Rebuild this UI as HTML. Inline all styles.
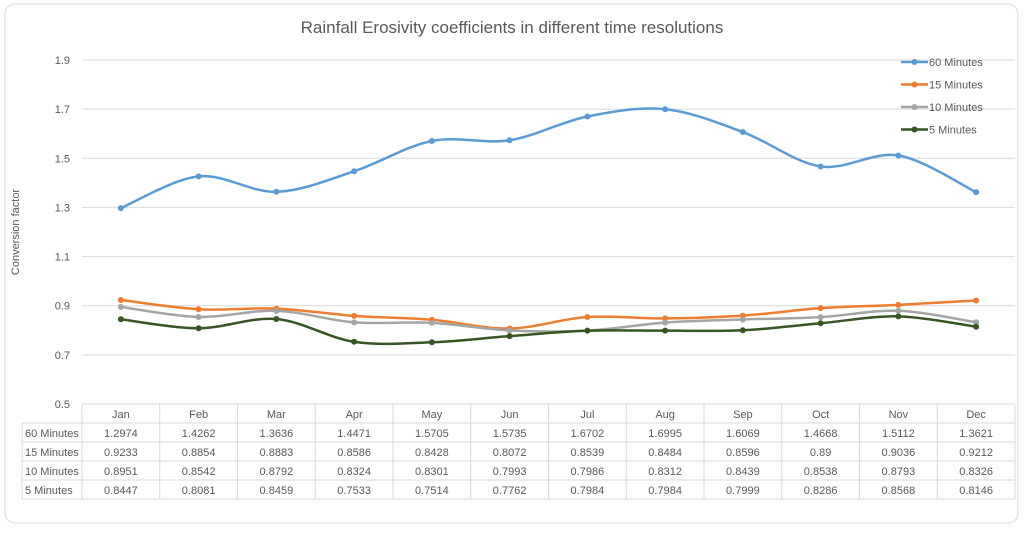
<!DOCTYPE html>
<html><head><meta charset="utf-8"><style>
body{margin:0;background:#fff;font-family:"Liberation Sans",sans-serif;}
svg text{font-family:"Liberation Sans",sans-serif;fill:#595959;}
</style></head><body>
<svg id="c" width="1024" height="529">
<rect x="5" y="4" width="1013" height="519" rx="10" fill="#fff" stroke="#d9d9d9"/>
<text x="512" y="33" text-anchor="middle" font-size="17">Rainfall Erosivity coefficients in different time resolutions</text>
<text transform="translate(19,232) rotate(-90)" text-anchor="middle" font-size="11">Conversion factor</text>
<g id="grid"></g><g id="series"></g><g id="table"></g><g id="legend"></g>
</svg>
<script>
const categories=["Jan","Feb","Mar","Apr","May","Jun","Jul","Aug","Sep","Oct","Nov","Dec"];
const seriesNames=["60 Minutes","15 Minutes","10 Minutes","5 Minutes"];
const s60=[1.2974,1.4262,1.3636,1.4471,1.5705,1.5735,1.6702,1.6995,1.6069,1.4668,1.5112,1.3621];
const s15=[0.9233,0.8854,0.8883,0.8586,0.8428,0.8072,0.8539,0.8484,0.8596,0.89,0.9036,0.9212];
const s10=[0.8951,0.8542,0.8792,0.8324,0.8301,0.7993,0.7986,0.8312,0.8439,0.8538,0.8793,0.8326];
const s5=[0.8447,0.8081,0.8459,0.7533,0.7514,0.7762,0.7984,0.7984,0.7999,0.8286,0.8568,0.8146];
const yTicks=[0.5,0.7,0.9,1.1,1.3,1.5,1.7,1.9];
const colors=["#5b9bd5","#ed7d31","#a5a5a5","#375623"];
const all=[s60,s15,s10,s5];
const NS="http://www.w3.org/2000/svg";
const X0=82,X1=1015,Y0=404,Y1=60,VMIN=0.5,VMAX=1.9;
const cw=(X1-X0)/categories.length;
const xs=i=>X0+cw*(i+0.5);
const ys=v=>Y0-(v-VMIN)/(VMAX-VMIN)*(Y0-Y1);
function mk(t,a,p){const e=document.createElementNS(NS,t);for(const k in a)e.setAttribute(k,a[k]);p.appendChild(e);return e;}
const g=document.getElementById('grid');
yTicks.forEach(t=>{
 const l=mk('line',{x1:X0,x2:X1,y1:ys(t),y2:ys(t),stroke:'#d9d9d9'},g);
 
 
 const tx=mk('text',{x:70,y:ys(t)+4,'text-anchor':'end','font-size':11},g);tx.textContent=t.toFixed(1);
 
 
});
const sg=document.getElementById('series');
all.forEach((arr,si)=>{
 const pts=arr.map((v,i)=>[xs(i),ys(v)]);
 let d=`M${pts[0][0]},${pts[0][1]}`;
 for(let i=0;i<pts.length-1;i++){
  const p0=pts[Math.max(0,i-1)],p1=pts[i],p2=pts[i+1],p3=pts[Math.min(pts.length-1,i+2)];
  const c1=[p1[0]+(p2[0]-p0[0])/6,p1[1]+(p2[1]-p0[1])/6],c2=[p2[0]-(p3[0]-p1[0])/6,p2[1]-(p3[1]-p1[1])/6];
  d+=` C${c1[0]},${c1[1]} ${c2[0]},${c2[1]} ${p2[0]},${p2[1]}`;
 }
 const p=mk('path',{d:d,fill:'none',stroke:colors[si],'stroke-width':2.5},sg);
 
 
 pts.forEach(q=>{const c=mk('circle',{cx:q[0],cy:q[1],r:3,fill:colors[si]},sg);
  
  });
});
const tg=document.getElementById('table');
const rows=[404,423,442,461,480,499];
const st='#d9d9d9';
mk('line',{x1:X0,x2:X1,y1:404,y2:404,stroke:st},tg);
for(let r=1;r<rows.length;r++)mk('line',{x1:22,x2:X1,y1:rows[r],y2:rows[r],stroke:st},tg);
mk('line',{x1:22,x2:22,y1:423,y2:499,stroke:st},tg);
for(let i=0;i<=categories.length;i++)mk('line',{x1:X0+cw*i,x2:X0+cw*i,y1:404,y2:499,stroke:st},tg);
categories.forEach((c,i)=>{const t=mk('text',{x:xs(i),y:418,'text-anchor':'middle','font-size':11},tg);t.textContent=c;
 
 });
all.forEach((arr,si)=>{
 const y=rows[si+1]+14;
 const l=mk('text',{x:25,y:y,'font-size':11},tg);l.textContent=seriesNames[si];
 
 
 arr.forEach((v,i)=>{const t=mk('text',{x:xs(i),y:y,'text-anchor':'middle','font-size':11},tg);t.textContent=String(v);
  
  });
});
const lg=document.getElementById('legend');
seriesNames.forEach((n,i)=>{
 const y=62+i*22.5;
 mk('line',{x1:901,x2:928,y1:y,y2:y,stroke:colors[i],'stroke-width':2.5},lg);
 mk('circle',{cx:914.5,cy:y,r:3,fill:colors[i]},lg);
 const t=mk('text',{x:929,y:y+4,'font-size':11},lg);t.textContent=n;
 
 
});
</script>
</body></html>
